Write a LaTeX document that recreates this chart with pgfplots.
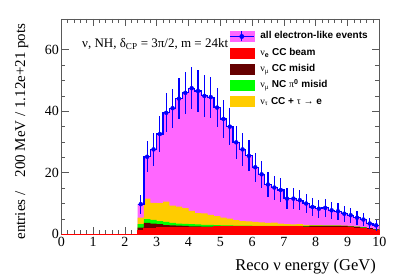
\documentclass[border=0pt]{standalone}
\usepackage{pgfplots}
\pgfplotsset{compat=1.18}
\usepackage{fontspec}
\setmainfont{Liberation Serif}
\setsansfont{Liberation Sans}
\newfontfamily\serf{Liberation Serif}
\newcommand{\gr}[1]{{\serf\mdseries #1}}
\definecolor{cmag}{RGB}{255,102,255}
\definecolor{cred}{RGB}{255,0,0}
\definecolor{cbrown}{RGB}{102,0,0}
\definecolor{cgreen}{RGB}{0,255,0}
\definecolor{cyel}{RGB}{255,204,0}
\definecolor{cblue}{RGB}{0,0,255}
\begin{document}
\begin{tikzpicture}
\begin{axis}[name=ax, scale only axis, width=318pt, height=215.3pt,
  xmin=0, xmax=10, ymin=0, ymax=70,
  xtick={0,1,...,10}, ytick={0,20,40,60},
  minor x tick num=4, minor y tick num=3,
  tick align=inside, tick pos=both,
  major tick length=7.5pt, minor tick length=4pt,
  axis line style={black!65, line width=0.7pt},
  every tick/.style={black!65, line width=0.7pt},
  tick label style={font=\fontsize{14}{14}\selectfont},
  /pgf/number format/assume math mode=true,
  xticklabel style={yshift=1pt},
  yticklabel style={xshift=1pt},
  xlabel={Reco ν energy (GeV)},
  ylabel={entries /\hspace{14pt}200 MeV / 1.12e+21 pots},
  every axis x label/.style={at={(axis description cs:1,-0.166)}, anchor=base east, font=\fontsize{16.5}{16.5}\selectfont},
  every axis y label/.style={at={(axis description cs:-0.1245,0.995)}, anchor=east, rotate=90, font=\fontsize{15}{15}\selectfont},
  clip=false,
  legend cell align=left,
  legend style={at={(rel axis cs:0.5274,0.9457)}, anchor=north west, draw=none, fill=none,
    inner sep=0pt, row sep=5.8pt,
    /tikz/every odd column/.style={column sep=6pt},
    font=\fontsize{10}{12}\selectfont\sffamily\bfseries,
    nodes={inner sep=0pt, text height=7.5pt, text depth=2.5pt}},
]
\addlegendimage{legend image code/.code={
  \fill[cmag] (0pt,-5pt) rectangle (24pt,5pt);
  \draw[cblue, line width=1.2pt] (0pt,0pt) -- (24pt,0pt);
  \draw[cblue, line width=1.2pt] (12pt,-5pt) -- (12pt,5pt);
  \fill[cblue] (12pt,0pt) circle (2.2pt);}}
\addlegendentry{all electron-like events}
\addlegendimage{legend image code/.code={\fill[cred] (0pt,-5pt) rectangle (24pt,5pt);}}
\addlegendentry{\gr{ν}\textsubscript{e} CC beam}
\addlegendimage{legend image code/.code={\fill[cbrown] (0pt,-5pt) rectangle (24pt,5pt);}}
\addlegendentry{\gr{ν}\textsubscript{\gr{μ}} CC misid}
\addlegendimage{legend image code/.code={\fill[cgreen] (0pt,-5pt) rectangle (24pt,5pt);}}
\addlegendentry{\gr{ν}\textsubscript{\gr{μ}} NC \gr{π}\textsuperscript{0} misid}
\addlegendimage{legend image code/.code={\fill[cyel] (0pt,-5pt) rectangle (24pt,5pt);}}
\addlegendentry{\gr{ν}\textsubscript{\gr{τ}} CC + \gr{τ} \gr{→} e}

% total (magenta)
\addplot[forget plot, fill=cmag, draw=none, const plot mark left] coordinates {
(2.4,9.8) (2.6,25.2) (2.8,27.6) (3.0,32.6) (3.2,39.5) (3.4,41.0) (3.6,44.1) (3.8,46.0)
(4.0,47.5) (4.2,46.6) (4.4,45.0) (4.6,44.6) (4.8,41.2) (5.0,37.5) (5.2,35.0) (5.4,29.9)
(5.6,27.6) (5.8,25.5) (6.0,21.8) (6.2,19.5) (6.4,16.2) (6.6,15.2) (6.8,14.4) (7.0,11.6)
(7.2,11.6) (7.4,11.1) (7.6,10.0) (7.8,8.9) (8.0,8.3) (8.2,8.6) (8.4,7.8) (8.6,7.5)
(8.8,6.7) (9.0,6.2) (9.2,5.4) (9.4,4.8) (9.6,3.5) (9.8,2.9) (10.0,2.9)} \closedcycle;
% nu_tau cumulative (yellow)
\addplot[forget plot, fill=cyel, draw=none, const plot mark left] coordinates {
(2.4,5.4) (2.6,11.6) (2.8,10.2) (3.0,10.1) (3.2,10.6) (3.4,9.3) (3.6,9.0) (3.8,8.5)
(4.0,7.6) (4.2,6.9) (4.4,6.8) (4.6,6.3) (4.8,5.9) (5.0,5.4) (5.2,5.1) (5.4,4.6)
(5.6,4.3) (5.8,4.2) (6.0,4.0) (6.2,3.9) (6.4,3.7) (6.6,3.8) (6.8,3.5) (7.0,3.3)
(7.2,3.2) (7.4,3.3) (7.6,3.1) (7.8,3.0) (8.0,3.0) (8.2,2.9) (8.4,2.9) (8.6,2.9)
(8.8,2.8) (9.0,2.7) (9.2,2.5) (9.4,2.3) (9.6,2.0) (9.8,1.6) (10.0,1.6)} \closedcycle;
% NC pi0 cumulative (green)
\addplot[forget plot, fill=cgreen, draw=none, const plot mark left] coordinates {
(2.4,3.3) (2.6,4.9) (2.8,4.7) (3.0,4.3) (3.2,4.0) (3.4,3.7) (3.6,3.5) (3.8,3.4)
(4.0,3.3) (4.2,3.2) (4.4,3.1) (4.6,3.1) (4.8,3.0) (5.0,2.9) (5.2,2.9) (5.4,2.8)
(5.6,2.8) (5.8,2.8) (6.0,2.7) (6.2,2.7) (6.4,2.7) (6.6,2.7) (6.8,2.7) (7.0,2.7)
(7.2,2.7) (7.4,2.7) (7.6,2.7) (7.8,2.8) (8.0,2.8) (8.2,2.8) (8.4,2.8) (8.6,2.8)
(8.8,2.7) (9.0,2.6) (9.2,2.5) (9.4,2.3) (9.6,2.0) (9.8,1.6) (10.0,1.6)} \closedcycle;
% numu CC misid cumulative (brown)
\addplot[forget plot, fill=cbrown, draw=none, const plot mark left] coordinates {
(2.4,2.2) (2.6,3.7) (2.8,3.5) (3.0,3.3) (3.2,3.0) (3.4,2.9) (3.6,2.8) (3.8,2.7)
(4.0,2.6) (4.2,2.6) (4.4,2.5) (4.6,2.5) (4.8,2.5) (5.0,2.5) (5.2,2.5) (5.4,2.5)
(5.6,2.5) (5.8,2.5) (6.0,2.5) (6.2,2.5) (6.4,2.5) (6.6,2.6) (6.8,2.6) (7.0,2.6)
(7.2,2.6) (7.4,2.6) (7.6,2.6) (7.8,2.7) (8.0,2.7) (8.2,2.7) (8.4,2.7) (8.6,2.7)
(8.8,2.7) (9.0,2.6) (9.2,2.4) (9.4,2.2) (9.6,2.0) (9.8,1.6) (10.0,1.6)} \closedcycle;
% nu_e CC beam (red)
\addplot[forget plot, fill=cred, draw=cred, line width=1pt, const plot mark left] coordinates {
(0,0) (2.4,1.3) (2.6,1.8) (2.8,2.0) (3.0,2.1) (3.2,2.1) (3.4,2.2) (3.6,2.2) (3.8,2.2)
(4.0,2.3) (4.2,2.3) (4.4,2.3) (4.6,2.3) (4.8,2.4) (5.0,2.4) (5.2,2.4) (5.4,2.4)
(5.6,2.4) (5.8,2.4) (6.0,2.4) (6.2,2.4) (6.4,2.4) (6.6,2.4) (6.8,2.4) (7.0,2.4)
(7.2,2.4) (7.4,2.4) (7.6,2.3) (7.8,2.3) (8.0,2.3) (8.2,2.3) (8.4,2.3) (8.6,2.2)
(8.8,2.2) (9.0,2.1) (9.2,2.0) (9.4,1.8) (9.6,1.6) (9.8,1.3) (10.0,1.3)} \closedcycle;
% blue outline
\addplot[forget plot, cblue, line width=1.2pt, const plot mark left, no marks] coordinates {
(2.4,9.8) (2.6,25.2) (2.8,27.6) (3.0,32.6) (3.2,39.5) (3.4,41.0) (3.6,44.1) (3.8,46.0)
(4.0,47.5) (4.2,46.6) (4.4,45.0) (4.6,44.6) (4.8,41.2) (5.0,37.5) (5.2,35.0) (5.4,29.9)
(5.6,27.6) (5.8,25.5) (6.0,21.8) (6.2,19.5) (6.4,16.2) (6.6,15.2) (6.8,14.4) (7.0,11.6)
(7.2,11.6) (7.4,11.1) (7.6,10.0) (7.8,8.9) (8.0,8.3) (8.2,8.6) (8.4,7.8) (8.6,7.5)
(8.8,6.7) (9.0,6.2) (9.2,5.4) (9.4,4.8) (9.6,3.5) (9.8,2.9) (10.0,2.9)};
% blue points with errors
\addplot[forget plot, cblue, only marks, mark=*, mark size=2pt,
  error bars/.cd, y dir=both, y explicit, error mark=none,
  error bar style={line width=1.2pt, cblue}] coordinates {
(2.5,9.8) +- (0,3.13) (2.7,25.2) +- (0,5.02) (2.9,27.6) +- (0,5.25) (3.1,32.6) +- (0,5.71)
(3.3,39.5) +- (0,6.28) (3.5,41.0) +- (0,6.40) (3.7,44.1) +- (0,6.64) (3.9,46.0) +- (0,6.78)
(4.1,47.5) +- (0,6.89) (4.3,46.6) +- (0,6.83) (4.5,45.0) +- (0,6.71) (4.7,44.6) +- (0,6.68)
(4.9,41.2) +- (0,6.42) (5.1,37.5) +- (0,6.12) (5.3,35.0) +- (0,5.92) (5.5,29.9) +- (0,5.47)
(5.7,27.6) +- (0,5.25) (5.9,25.5) +- (0,5.05) (6.1,21.8) +- (0,4.67) (6.3,19.5) +- (0,4.42)
(6.5,16.2) +- (0,4.02) (6.7,15.2) +- (0,3.90) (6.9,14.4) +- (0,3.79) (7.1,11.6) +- (0,3.41)
(7.3,11.6) +- (0,3.41) (7.5,11.1) +- (0,3.33) (7.7,10.0) +- (0,3.16) (7.9,8.9) +- (0,2.98)
(8.1,8.3) +- (0,2.88) (8.3,8.6) +- (0,2.93) (8.5,7.8) +- (0,2.79) (8.7,7.5) +- (0,2.74)
(8.9,6.7) +- (0,2.59) (9.1,6.2) +- (0,2.49) (9.3,5.4) +- (0,2.32) (9.5,4.8) +- (0,2.19)
(9.7,3.5) +- (0,1.87) (9.9,2.9) +- (0,1.70)};
\node[anchor=base west, font=\fontsize{13}{13}\selectfont, inner sep=0pt] at (axis cs:0.65,60.6)
  {ν, NH, δ\textsubscript{CP} = 3π/2, m = 24kt};
\end{axis}
\pgfresetboundingbox
\path ([xshift=-61.3pt,yshift=-41.7pt]ax.south west) rectangle ([xshift=27.7pt,yshift=19pt]ax.north east);
\end{tikzpicture}
\end{document}
